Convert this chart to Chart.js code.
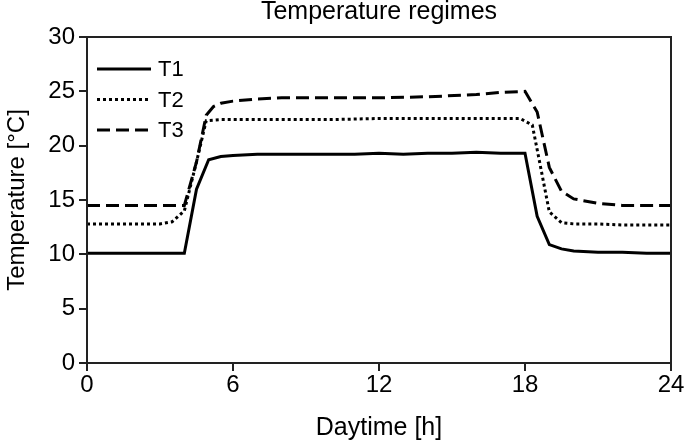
<!DOCTYPE html>
<html>
<head>
<meta charset="utf-8">
<script src="https://cdn.jsdelivr.net/npm/chart.js@4/dist/chart.umd.min.js"></script>
<style>
  html, body { margin: 0; padding: 0; background: #fff; }
  #wrap { width: 685px; height: 443px; }
</style>
</head>
<body>
<div id="wrap"><canvas id="chart" width="685" height="443"></canvas></div>
<script>
// hours of the day and temperatures
const hoursT1 = [0, 1, 2, 3, 4, 4.5, 5, 5.5, 6, 7, 8, 9, 10, 11, 12, 13, 14, 15, 16, 17, 18, 18.5, 19, 19.5, 20, 21, 22, 23, 24];
const tempT1  = [10.1, 10.1, 10.1, 10.1, 10.1, 16.0, 18.7, 19.0, 19.1, 19.2, 19.2, 19.2, 19.2, 19.2, 19.3, 19.2, 19.3, 19.3, 19.4, 19.3, 19.3, 13.5, 10.9, 10.5, 10.3, 10.2, 10.2, 10.1, 10.1];

const hoursT2 = [0, 1, 2, 3, 3.5, 4, 4.5, 4.9, 5.5, 6, 8, 10, 12, 14, 16, 17.8, 18.3, 18.6, 19, 19.5, 20, 21, 22, 23, 24];
const tempT2  = [12.8, 12.8, 12.8, 12.8, 13.0, 14.0, 18.5, 22.3, 22.4, 22.4, 22.4, 22.4, 22.5, 22.5, 22.5, 22.5, 21.9, 18.5, 13.9, 12.9, 12.8, 12.8, 12.7, 12.7, 12.7];

const hoursT3 = [0, 1, 2, 3, 4, 4.5, 4.9, 5.2, 5.5, 6, 7, 8, 10, 12, 14, 16, 17, 18, 18.5, 19, 19.5, 20, 21, 22, 23, 24];
const tempT3  = [14.5, 14.5, 14.5, 14.5, 14.5, 18.5, 22.8, 23.6, 23.9, 24.1, 24.3, 24.4, 24.4, 24.4, 24.5, 24.7, 24.9, 25.0, 23.1, 18.0, 15.8, 15.1, 14.7, 14.5, 14.5, 14.5];

const seriesNames = ['T1', 'T2', 'T3'];
const xTicks = [0, 6, 12, 18, 24];

function pts(xs, ys) {
  return xs.map((x, i) => ({ x: x, y: ys[i] }));
}

const FONT = '"Liberation Sans", Arial, sans-serif';
const INK = '#000';
const AXIS = '#222';

// title sits over the plot area, not over the whole canvas
const centerTitle = {
  id: 'centerTitle',
  afterLayout(chart) {
    if (chart.titleBlock) {
      chart.titleBlock.left = chart.chartArea.left;
      chart.titleBlock.right = chart.chartArea.right;
    }
  }
};

// frame round the plot and the legend inside the top left corner
const frameAndLegend = {
  id: 'frameAndLegend',
  afterDatasetsDraw(chart) {
    const { ctx, chartArea: a } = chart;
    ctx.save();
    ctx.strokeStyle = AXIS;
    ctx.lineWidth = 2;
    ctx.strokeRect(a.left, a.top, a.right - a.left, a.bottom - a.top);

    chart.data.datasets.forEach((ds, i) => {
      const y = a.top + 32 + i * 30.5;
      const x0 = a.left + 10;
      ctx.beginPath();
      ctx.setLineDash(ds.borderDash || []);
      ctx.lineWidth = ds.borderWidth;
      ctx.strokeStyle = ds.borderColor;
      ctx.moveTo(x0, y);
      ctx.lineTo(x0 + 54, y);
      ctx.stroke();
      ctx.setLineDash([]);
      ctx.fillStyle = INK;
      ctx.font = '22px ' + FONT;
      ctx.textBaseline = 'middle';
      ctx.textAlign = 'left';
      ctx.fillText(ds.label, x0 + 61, y + 1);
    });
    ctx.restore();
  }
};

const ctx = document.getElementById('chart');
const myChart = new Chart(ctx, {
  type: 'line',
  data: {
    datasets: [
      { label: seriesNames[0], data: pts(hoursT1, tempT1), borderColor: INK, borderWidth: 3, borderDash: [] },
      { label: seriesNames[1], data: pts(hoursT2, tempT2), borderColor: INK, borderWidth: 3, borderDash: [3, 3] },
      { label: seriesNames[2], data: pts(hoursT3, tempT3), borderColor: INK, borderWidth: 3, borderDash: [13, 6] }
    ]
  },
  options: {
    responsive: false,
    animation: false,
    devicePixelRatio: 1,
    layout: { padding: { left: 0, right: 14, top: 0, bottom: 0 } },
    elements: {
      point: { radius: 0 },
      line: { tension: 0, fill: false }
    },
    plugins: {
      legend: { display: false },
      tooltip: { enabled: false },
      title: {
        display: true,
        text: 'Temperature regimes',
        color: INK,
        font: { family: FONT, size: 25, weight: 'normal', lineHeight: 1 },
        padding: { top: 0, bottom: 12 }
      }
    },
    scales: {
      x: {
        type: 'linear',
        min: 0,
        max: 24,
        afterBuildTicks(scale) {
          scale.ticks = xTicks.map(v => ({ value: v }));
        },
        afterFit(scale) { scale.height = 80; },
        grid: { drawOnChartArea: false, drawTicks: true, tickLength: 8, color: AXIS, lineWidth: 2 },
        border: { color: AXIS, width: 2 },
        ticks: { color: INK, font: { family: FONT, size: 24 }, padding: 0, maxRotation: 0 },
        title: {
          display: true,
          text: 'Daytime [h]',
          color: INK,
          font: { family: FONT, size: 25 },
          padding: { top: 8, bottom: 0 }
        }
      },
      y: {
        min: 0,
        max: 30,
        afterFit(scale) { scale.width = 87; },
        grid: { drawOnChartArea: false, drawTicks: true, tickLength: 8, color: AXIS, lineWidth: 2 },
        border: { color: AXIS, width: 2 },
        ticks: { stepSize: 5, color: INK, font: { family: FONT, size: 24 }, padding: 4 },
        title: {
          display: true,
          text: 'Temperature [°C]',
          color: INK,
          font: { family: FONT, size: 24 },
          padding: { top: 3, bottom: 2 }
        }
      }
    }
  },
  plugins: [centerTitle, frameAndLegend]
});
</script>
</body>
</html>
